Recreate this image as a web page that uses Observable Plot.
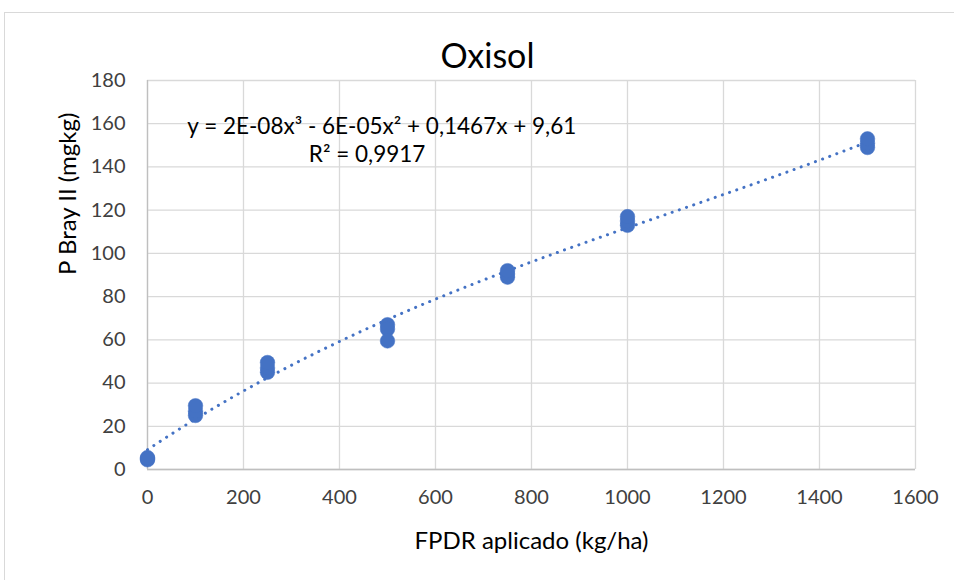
<!DOCTYPE html>
<html>
<head>
<meta charset="utf-8">
<script src="https://cdn.jsdelivr.net/npm/d3@7"></script>
<script src="https://cdn.jsdelivr.net/npm/@observablehq/plot@0.6"></script>
<style>
  html, body { margin: 0; padding: 0; background: #fff; overflow: hidden; }
  #wrap { position: relative; width: 954px; height: 580px; }
  #frame { position: absolute; left: 4px; top: 12px; width: 1000px; height: 1000px;
           border: 1px solid #d9d9d9; box-sizing: border-box; }
  #chart { position: absolute; left: 0; top: 0; }
</style>
</head>
<body>
<div id="wrap"><div id="frame"></div><div id="chart"></div></div>
<script>
// FPDR dose applied (kg/ha) and measured P Bray II (mg/kg), one entry per replicate
const doses = [0, 0, 0, 100, 100, 100, 250, 250, 250, 500, 500, 500, 750, 750, 750, 1000, 1000, 1000, 1500, 1500, 1500];
const pBray = [4.5, 5, 5.5, 25, 27, 29.5, 45, 47, 49.5, 67, 65, 59.5, 89, 90.5, 92, 113, 115, 117, 149, 151, 153];

const xTicks = [0, 200, 400, 600, 800, 1000, 1200, 1400, 1600];
const yTicks = [0, 20, 40, 60, 80, 100, 120, 140, 160, 180];

const title = "Oxisol";
const xTitle = "FPDR aplicado (kg/ha)";
const yTitle = "P Bray II (mgkg)";
const eqText = "y = 2E-08x³ - 6E-05x² + 0,1467x + 9,61";
const r2Text = "R² = 0,9917";

const points = doses.map((d, i) => ({dose: d, p: pBray[i]}));

// Least-squares cubic fit of the observations (x scaled to thousands for stability)
function cubicFit(xs, ys) {
  const n = 4;
  const A = Array.from({length: n}, () => new Array(n + 1).fill(0));
  xs.forEach((x0, k) => {
    const x = x0 / 1000;
    const pw = [1, x, x * x, x * x * x];
    for (let i = 0; i < n; i++) {
      for (let j = 0; j < n; j++) A[i][j] += pw[i] * pw[j];
      A[i][n] += pw[i] * ys[k];
    }
  });
  for (let c = 0; c < n; c++) {
    let piv = c;
    for (let r = c + 1; r < n; r++) if (Math.abs(A[r][c]) > Math.abs(A[piv][c])) piv = r;
    [A[c], A[piv]] = [A[piv], A[c]];
    for (let r = 0; r < n; r++) {
      if (r === c) continue;
      const f = A[r][c] / A[c][c];
      for (let k = c; k <= n; k++) A[r][k] -= f * A[c][k];
    }
  }
  const b = A.map((row, i) => row[n] / row[i]);
  return x0 => { const x = x0 / 1000; return b[0] + b[1] * x + b[2] * x * x + b[3] * x * x * x; };
}
const fit = cubicFit(doses, pBray);
const trend = d3.range(0, 1501, 10).map(x => ({dose: x, p: fit(x)}));

const blue = "#4472c4";
const font = "Lato, 'Liberation Sans', sans-serif";

const chart = Plot.plot({
  width: 954,
  height: 580,
  marginLeft: 147,
  marginRight: 39,
  marginTop: 80,
  marginBottom: 111,
  style: {fontFamily: font, fontSize: "20px", color: "#404040", background: "transparent", overflow: "visible"},
  x: {domain: [0, 1600], ticks: xTicks, tickFormat: d => String(d), tickSize: 0, tickPadding: 20, label: null},
  y: {domain: [0, 180], ticks: yTicks, tickFormat: d => String(d), tickSize: 0, tickPadding: 22, label: null},
  marks: [
    Plot.gridY(yTicks, {stroke: "#d9d9d9", strokeOpacity: 1, strokeWidth: 1.3}),
    Plot.gridX(xTicks, {stroke: "#d9d9d9", strokeOpacity: 1, strokeWidth: 1.3}),
    Plot.ruleY([0], {stroke: "#bfbfbf", strokeWidth: 1.3}),
    Plot.ruleX([0], {stroke: "#bfbfbf", strokeWidth: 1.3}),
    Plot.axisX(xTicks, {tickSize: 0, tickPadding: 20, tickFormat: d => String(d), fontSize: 20, fill: "#404040", label: null}),
    Plot.axisY(yTicks, {tickSize: 0, tickPadding: 22, tickFormat: d => String(d), fontSize: 20, fill: "#404040", label: null}),
    Plot.line(trend, {x: "dose", y: "p", stroke: blue, strokeWidth: 3, strokeDasharray: "0.1 7.5", strokeLinecap: "round"}),
    Plot.dot(points, {x: "dose", y: "p", r: 7.3, fill: blue, stroke: blue, strokeWidth: 0.5}),
    Plot.text([eqText], {x: 83, y: 158.8, textAnchor: "start", fontSize: 22.5, fill: "#000"}),
    Plot.text([r2Text], {x: 579, y: 145.4, textAnchor: "end", fontSize: 22.5, fill: "#000"}),
    Plot.text([title], {frameAnchor: "top", lineAnchor: "middle", dx: -44, dy: -23, fontSize: 34, fill: "#000"}),
    Plot.text([xTitle], {frameAnchor: "bottom", lineAnchor: "middle", dy: 72, fontSize: 24, fill: "#000"}),
    Plot.text([yTitle], {frameAnchor: "left", lineAnchor: "middle", dx: -79, rotate: -90, fontSize: 24, fill: "#000"})
  ]
});
document.getElementById("chart").appendChild(chart);
</script>
</body>
</html>
